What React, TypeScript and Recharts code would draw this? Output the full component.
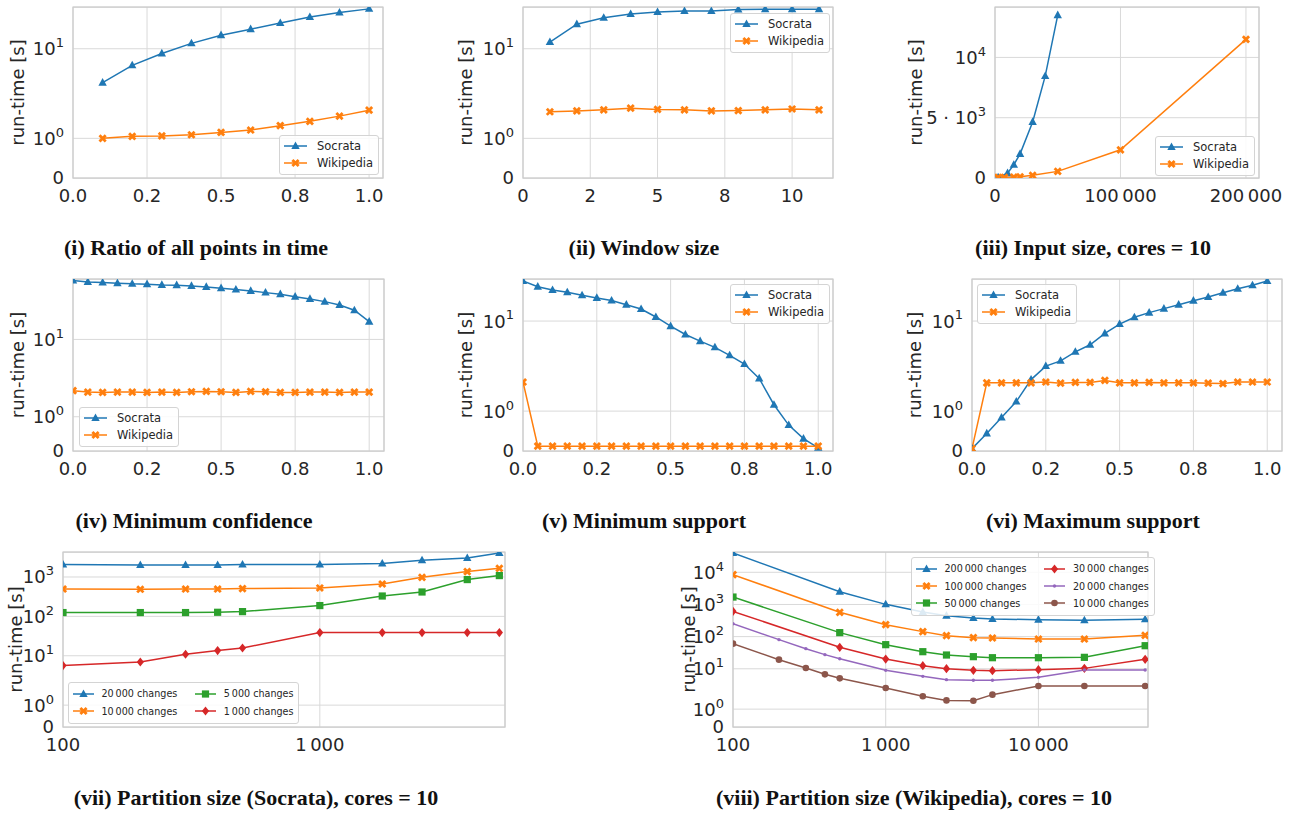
import React from 'react';
import { LineChart, Line, XAxis, YAxis, CartesianGrid, Legend, ReferenceArea } from 'recharts';

const INK = '#262626';
const GRID = '#d9d9d9';
const EDGE = '#cccccc';
const SANS = '"DejaVu Sans", sans-serif';

const BLUE = '#1f77b4';
const ORANGE = '#ff7f0e';
const GREEN = '#2ca02c';
const RED = '#d62728';
const PURPLE = '#9467bd';
const BROWN = '#8c564b';

// symlog like matplotlib (linthresh = 2, linscale = 1), in decades
const LIN = 1 / 0.9;
const symlog = (v: number) => (v <= 2 ? (v * LIN) / 2 : LIN + Math.log10(v / 2));

// (i) ratio of all points in time
const ratioX = [0.1, 0.2, 0.3, 0.4, 0.5, 0.6, 0.7, 0.8, 0.9, 1.0];
const ratioSocrata = [3.35, 5.86, 8.6, 11.9, 15.5, 18.8, 22.9, 27.8, 32.2, 36.2];
const ratioWikipedia = [1.0, 1.05, 1.06, 1.09, 1.15, 1.21, 1.32, 1.43, 1.56, 1.71];

// (ii) window size
const windowX = [1, 2, 3, 4, 5, 6, 7, 8, 9, 10, 11];
const windowSocrata = [12.4, 22.1, 27.1, 30.6, 32.6, 33.7, 33.7, 35.5, 35.9, 35.9, 35.9];
const windowWikipedia = [1.67, 1.69, 1.72, 1.76, 1.73, 1.72, 1.69, 1.7, 1.72, 1.74, 1.72];

// (iii) input size
const inputSocrataX = [2500, 10000, 15000, 20000, 30000, 40000, 50000];
const inputSocrata = [60, 400, 1100, 2000, 4650, 8450, 13500];
const inputWikipediaX = [2500, 7500, 15000, 20000, 30000, 50000, 100000, 200000];
const inputWikipedia = [50, 60, 80, 100, 220, 550, 2340, 11500];

// (iv)-(vi) thresholds
const thresholdX = [0, 0.05, 0.1, 0.15, 0.2, 0.25, 0.3, 0.35, 0.4, 0.45, 0.5, 0.55, 0.6, 0.65, 0.7, 0.75, 0.8, 0.85, 0.9, 0.95, 1.0];
const confSocrata = [90.0, 85.7, 83.6, 81.7, 79.6, 78.7, 76.6, 75.7, 73.8, 71.1, 67.8, 64.3, 61.2, 57.4, 54.1, 49.4, 45.4, 41.0, 36.2, 29.7, 19.4];
const confWikipedia = [1.76, 1.72, 1.71, 1.72, 1.72, 1.71, 1.72, 1.71, 1.73, 1.74, 1.73, 1.71, 1.74, 1.73, 1.71, 1.71, 1.72, 1.72, 1.71, 1.72, 1.72];
const minSupSocrata = [36.1, 30.1, 27.1, 25.2, 22.9, 21.0, 19.3, 16.9, 14.7, 11.4, 8.5, 6.5, 5.25, 4.3, 3.33, 2.52, 1.82, 1.16, 0.65, 0.31, 0.08];
const minSupWikipedia = [1.73, 0.12, 0.12, 0.12, 0.12, 0.12, 0.12, 0.12, 0.12, 0.12, 0.12, 0.12, 0.12, 0.12, 0.12, 0.12, 0.12, 0.12, 0.12, 0.12, 0.12];
const maxSupSocrata = [0.06, 0.44, 0.84, 1.24, 1.79, 2.36, 2.79, 3.73, 4.67, 6.73, 9.08, 11.3, 13.1, 14.9, 16.9, 19.2, 21.6, 24.8, 28.2, 31.5, 36.1];
const maxSupWikipedia = [0.06, 1.71, 1.71, 1.71, 1.71, 1.73, 1.7, 1.72, 1.72, 1.77, 1.71, 1.71, 1.72, 1.71, 1.71, 1.71, 1.7, 1.69, 1.73, 1.73, 1.73];

// (vii) partition size, Socrata
const partX = [100, 200, 300, 400, 500, 1000, 1750, 2500, 3750, 5000];
const soc20000 = [2065, 2018, 2018, 2018, 2065, 2065, 2188, 2655, 3040, 4070];
const soc10000 = [495, 488, 495, 495, 507, 526, 664, 982, 1370, 1663];
const soc5000 = [125, 125, 125, 127, 132, 188, 329, 416, 860, 1086];
const soc1000 = [5.62, 6.93, 10.9, 13.5, 15.7, 38.7, 38.7, 38.7, 38.7, 38.7];

// (viii) partition size, Wikipedia
const wikiCoarseX = [100, 500, 1000, 1750, 2500, 3750, 5000, 10000, 20000, 50000];
const wikiFineX = [100, 200, 300, 400, 500, 1000, 1750, 2500, 3750, 5000, 10000, 20000, 50000];
const wiki200000 = [39700, 2495, 1007, 582, 448, 379, 353, 336, 320, 344];
const wiki100000 = [8430, 569, 235, 143, 107, 92.7, 90.6, 84.3, 84.3, 110];
const wiki50000 = [1700, 133, 56.2, 34.0, 26.8, 23.8, 22.1, 22.1, 22.7, 52.2];
const wiki30000 = [611, 46.5, 20.1, 12.5, 10.1, 8.95, 8.73, 9.38, 10.3, 19.7];
const wiki20000 = [252, 80.4, 42.2, 27.5, 20.6, 8.95, 5.82, 4.59, 4.38, 4.38, 5.42, 9.16, 9.16];
const wiki10000 = [60.4, 19.2, 10.6, 6.72, 5.05, 2.52, 1.72, 1.49, 1.47, 1.81, 2.92, 2.92, 2.92];

// tick values and labels
type TickLabel = { text: string; sup?: string };
const fracTicks = [0, 0.25, 0.5, 0.75, 1];
const fracLabels = ['0.0', '0.2', '0.5', '0.8', '1.0'];
const windowTicks = [0, 2.5, 5, 7.5, 10];
const windowLabels = ['0', '2', '5', '8', '10'];
const inputXTicks = [0, 100000, 200000];
const inputXLabels = ['0', '100\u2009000', '200\u2009000'];
const inputYTicks = [0, 5000, 10000];
const inputYLabels: TickLabel[] = [{ text: '0' }, { text: '5 \u00b7 10', sup: '3' }, { text: '10', sup: '4' }];
const partTicks = [100, 1000];
const partLabels = ['100', '1\u2009000'];
const partWikiTicks = [100, 1000, 10000];
const partWikiLabels = ['100', '1\u2009000', '10\u2009000'];
const decadeTicks = [0, 1, 10, 100, 1000, 10000];
const decadeLabels: TickLabel[] = [
  { text: '0' },
  { text: '10', sup: '0' },
  { text: '10', sup: '1' },
  { text: '10', sup: '2' },
  { text: '10', sup: '3' },
  { text: '10', sup: '4' },
];

type Shape = 'tri' | 'x' | 'sq' | 'dia' | 'pt' | 'o';
type Series = { key: string; name: string; color: string; shape: Shape; xs: number[]; ys: number[] };

const socrata = (xs: number[], ys: number[]): Series => ({ key: 's', name: 'Socrata', color: BLUE, shape: 'tri', xs, ys });
const wikipedia = (xs: number[], ys: number[]): Series => ({ key: 'w', name: 'Wikipedia', color: ORANGE, shape: 'x', xs, ys });

function Marker({ shape, cx, cy, color }: { shape: Shape; cx: number; cy: number; color: string }) {
  switch (shape) {
    case 'tri':
      return <polygon points={`${cx},${cy - 4.6} ${cx + 4.2},${cy + 3} ${cx - 4.2},${cy + 3}`} fill={color} />;
    case 'x':
      return (
        <g transform={`translate(${cx},${cy}) rotate(45)`} fill={color}>
          <rect x={-4.4} y={-1.4} width={8.8} height={2.8} />
          <rect x={-1.4} y={-4.4} width={2.8} height={8.8} />
        </g>
      );
    case 'sq':
      return <rect x={cx - 3.6} y={cy - 3.6} width={7.2} height={7.2} fill={color} />;
    case 'dia':
      return <polygon points={`${cx},${cy - 4.6} ${cx + 3.6},${cy} ${cx},${cy + 4.6} ${cx - 3.6},${cy}`} fill={color} />;
    case 'pt':
      return <circle cx={cx} cy={cy} r={1.7} fill={color} />;
    default:
      return <circle cx={cx} cy={cy} r={3.3} fill={color} />;
  }
}

type LegendCfg = { dx: number; dy: number; cols: number; font: number; handle: number; gap: number; colGap: number; rowH: number };

function LegendBox({ series, cfg }: { series: Series[]; cfg: LegendCfg }) {
  const rows = Math.ceil(series.length / cfg.cols);
  return (
    <div
      style={{
        display: 'grid',
        gridAutoFlow: 'column',
        gridTemplateRows: `repeat(${rows}, ${cfg.rowH}px)`,
        columnGap: cfg.colGap,
        padding: '2px 5px 3px 4px',
        border: '1px solid #d4d4d4',
        borderRadius: 3,
        background: 'rgba(255,255,255,0.85)',
        fontFamily: SANS,
        fontSize: cfg.font,
        color: INK,
        whiteSpace: 'nowrap',
      }}
    >
      {series.map((s) => (
        <div key={s.key} style={{ display: 'flex', alignItems: 'center' }}>
          <svg width={cfg.handle} height={12} style={{ marginRight: cfg.gap }}>
            <line x1={0} y1={6} x2={cfg.handle} y2={6} stroke={s.color} strokeWidth={1.5} />
            <Marker shape={s.shape} cx={cfg.handle / 2} cy={6} color={s.color} />
          </svg>
          <span>{s.name}</span>
        </div>
      ))}
    </div>
  );
}

const smallLegend = (dx: number, dy: number): LegendCfg => ({ dx, dy, cols: 1, font: 11.5, handle: 23, gap: 10, colGap: 0, rowH: 16.7 });
const wideLegend = (dx: number, dy: number): LegendCfg => ({ dx, dy, cols: 2, font: 9.6, handle: 21, gap: 7.5, colGap: 18, rowH: 17.4 });

type PanelProps = {
  left: number;
  top: number;
  width: number;
  height: number;
  series: Series[];
  xDomain: [number, number];
  xTicks: number[];
  xLabels: string[];
  xLog?: boolean;
  yTop: number;
  yTicks: number[];
  yLabels: TickLabel[];
  yLinear?: boolean;
  labelGap: number;
  legend: LegendCfg;
};

const AXIS_W = 90;
const PAD_TOP = 10;
const PAD_RIGHT = 40;
const AXIS_H = 45;

function Panel(p: PanelProps) {
  const tf = (v: number) => (p.yLinear ? v : symlog(v));
  const xs = Array.from(new Set(p.series.flatMap((s) => s.xs))).sort((a, b) => a - b);
  const data = xs.map((x) => {
    const row: Record<string, number> = { x };
    p.series.forEach((s) => {
      const i = s.xs.indexOf(x);
      if (i >= 0) row[s.key] = tf(s.ys[i]);
    });
    return row;
  });
  const yTickPos = p.yTicks.map(tf);

  const xTick = (t: any) => (
    <text x={t.x} y={t.y} dy="0.8em" textAnchor="middle" fontFamily={SANS} fontSize={18} fill={INK}>
      {p.xLabels[t.index]}
    </text>
  );
  const yTick = (t: any) => {
    const lab = p.yLabels[t.index];
    return (
      <text x={t.x} y={t.y} dy="0.36em" textAnchor="end" fontFamily={SANS} fontSize={18} fill={INK}>
        {lab.text}
        {lab.sup && (
          <tspan fontSize={13} dy="-0.62em">
            {lab.sup}
          </tspan>
        )}
      </text>
    );
  };
  const yLabel = (l: any) => {
    const vb = l.viewBox;
    const cx = vb.x + vb.width - p.labelGap;
    const cy = vb.y + vb.height / 2;
    return (
      <text
        x={cx}
        y={cy}
        transform={`rotate(-90 ${cx} ${cy})`}
        textAnchor="middle"
        dominantBaseline="central"
        fontFamily={SANS}
        fontSize={18}
        fill={INK}
      >
        run-time [s]
      </text>
    );
  };

  return (
    <div style={{ position: 'absolute', left: p.left - AXIS_W, top: p.top - PAD_TOP }}>
      <LineChart
        width={p.width + AXIS_W + PAD_RIGHT}
        height={p.height + PAD_TOP + AXIS_H}
        data={data}
        margin={{ top: PAD_TOP, right: PAD_RIGHT, bottom: 0, left: 0 }}
      >
        <CartesianGrid stroke={GRID} strokeWidth={1} />
        <XAxis
          type="number"
          dataKey="x"
          domain={p.xDomain}
          scale={p.xLog ? 'log' : 'auto'}
          ticks={p.xTicks}
          interval={0}
          allowDataOverflow
          axisLine={false}
          tickLine={false}
          tickSize={0}
          tickMargin={10}
          height={AXIS_H}
          tick={xTick}
        />
        <YAxis
          type="number"
          domain={[0, p.yTop]}
          ticks={yTickPos}
          interval={0}
          allowDataOverflow
          axisLine={false}
          tickLine={false}
          tickSize={0}
          tickMargin={9}
          width={AXIS_W}
          tick={yTick}
          label={yLabel}
        />
        <ReferenceArea
          x1={p.xDomain[0]}
          x2={p.xDomain[1]}
          y1={0}
          y2={p.yTop}
          fill="none"
          fillOpacity={0}
          stroke={EDGE}
          strokeWidth={1.25}
          ifOverflow="visible"
        />
        {p.series.map((s) => (
          <Line
            key={s.key}
            dataKey={s.key}
            name={s.name}
            type="linear"
            stroke={s.color}
            strokeWidth={1.5}
            connectNulls
            isAnimationActive={false}
            dot={(d: any) =>
              Number.isFinite(d.cx) && Number.isFinite(d.cy) && d.value != null ? (
                <g key={`${s.key}-${d.index}`}>
                  <Marker shape={s.shape} cx={d.cx} cy={d.cy} color={s.color} />
                </g>
              ) : (
                <g key={`${s.key}-${d.index}`} />
              )
            }
            activeDot={false}
          />
        ))}
        <Legend
          verticalAlign="middle"
          align="center"
          layout="horizontal"
          wrapperStyle={{ left: AXIS_W + p.legend.dx, top: PAD_TOP + p.legend.dy, width: 'auto', height: 'auto' }}
          content={() => <LegendBox series={p.series} cfg={p.legend} />}
        />
      </LineChart>
    </div>
  );
}

function Caption({ text, cx, cy }: { text: string; cx: number; cy: number }) {
  return (
    <div
      style={{
        position: 'absolute',
        left: cx - 250,
        top: cy - 13,
        width: 500,
        lineHeight: '26px',
        textAlign: 'center',
        fontFamily: '"Liberation Serif", serif',
        fontWeight: 'bold',
        fontSize: 22,
        color: '#111',
      }}
    >
      {text}
    </div>
  );
}

const twoDatasets = (sx: number[], sy: number[], wx: number[], wy: number[]) => [socrata(sx, sy), wikipedia(wx, wy)];

export default function App() {
  return (
    <div style={{ position: 'absolute', left: 0, top: 0, width: 1299, height: 814, background: '#fff', overflow: 'hidden' }}>
      <Panel
        left={73} top={7} width={310} height={171}
        series={twoDatasets(ratioX, ratioSocrata, ratioX, ratioWikipedia)}
        xDomain={[0, 1.047]} xTicks={fracTicks} xLabels={fracLabels}
        yTop={2.395} yTicks={decadeTicks.slice(0, 3)} yLabels={decadeLabels.slice(0, 3)}
        labelGap={56} legend={smallLegend(206, 128)}
      />
      <Panel
        left={523} top={7} width={310} height={171}
        series={twoDatasets(windowX, windowSocrata, windowX, windowWikipedia)}
        xDomain={[0, 11.52]} xTicks={windowTicks} xLabels={windowLabels}
        yTop={2.395} yTicks={decadeTicks.slice(0, 3)} yLabels={decadeLabels.slice(0, 3)}
        labelGap={58} legend={smallLegend(207, 6)}
      />
      <Panel
        left={995} top={7} width={264} height={171}
        series={twoDatasets(inputSocrataX, inputSocrata, inputWikipediaX, inputWikipedia)}
        xDomain={[0, 210400]} xTicks={inputXTicks} xLabels={inputXLabels}
        yTop={14180} yTicks={inputYTicks} yLabels={inputYLabels} yLinear
        labelGap={80} legend={smallLegend(160, 129)}
      />
      <Panel
        left={73} top={279} width={311} height={172}
        series={twoDatasets(thresholdX, confSocrata, thresholdX, confWikipedia)}
        xDomain={[0, 1.05]} xTicks={fracTicks} xLabels={fracLabels}
        yTop={2.79} yTicks={decadeTicks.slice(0, 3)} yLabels={decadeLabels.slice(0, 3)}
        labelGap={56} legend={smallLegend(6, 128)}
      />
      <Panel
        left={523} top={279} width={310} height={172}
        series={twoDatasets(thresholdX, minSupSocrata, thresholdX, minSupWikipedia)}
        xDomain={[0, 1.05]} xTicks={fracTicks} xLabels={fracLabels}
        yTop={2.396} yTicks={decadeTicks.slice(0, 3)} yLabels={decadeLabels.slice(0, 3)}
        labelGap={58} legend={smallLegend(207, 5)}
      />
      <Panel
        left={972} top={279} width={310} height={172}
        series={twoDatasets(thresholdX, maxSupSocrata, thresholdX, maxSupWikipedia)}
        xDomain={[0, 1.05]} xTicks={fracTicks} xLabels={fracLabels}
        yTop={2.396} yTicks={decadeTicks.slice(0, 3)} yLabels={decadeLabels.slice(0, 3)}
        labelGap={58} legend={smallLegend(5, 5)}
      />
      <Panel
        left={63} top={552} width={442} height={175}
        series={[
          { key: 'a', name: '20\u2009000 changes', color: BLUE, shape: 'tri', xs: partX, ys: soc20000 },
          { key: 'b', name: '10\u2009000 changes', color: ORANGE, shape: 'x', xs: partX, ys: soc10000 },
          { key: 'c', name: '5\u2009000 changes', color: GREEN, shape: 'sq', xs: partX, ys: soc5000 },
          { key: 'd', name: '1\u2009000 changes', color: RED, shape: 'dia', xs: partX, ys: soc1000 },
        ]}
        xDomain={[100, 5260]} xTicks={partTicks} xLabels={partLabels} xLog
        yTop={4.445} yTicks={decadeTicks.slice(0, 5)} yLabels={decadeLabels.slice(0, 5)}
        labelGap={48} legend={wideLegend(5, 130)}
      />
      <Panel
        left={733} top={552} width={415} height={175}
        series={[
          { key: 'a', name: '200\u2009000 changes', color: BLUE, shape: 'tri', xs: wikiCoarseX, ys: wiki200000 },
          { key: 'b', name: '100\u2009000 changes', color: ORANGE, shape: 'x', xs: wikiCoarseX, ys: wiki100000 },
          { key: 'c', name: '50\u2009000 changes', color: GREEN, shape: 'sq', xs: wikiCoarseX, ys: wiki50000 },
          { key: 'd', name: '30\u2009000 changes', color: RED, shape: 'dia', xs: wikiCoarseX, ys: wiki30000 },
          { key: 'e', name: '20\u2009000 changes', color: PURPLE, shape: 'pt', xs: wikiFineX, ys: wiki20000 },
          { key: 'f', name: '10\u2009000 changes', color: BROWN, shape: 'o', xs: wikiFineX, ys: wiki10000 },
        ]}
        xDomain={[100, 52200]} xTicks={partWikiTicks} xLabels={partWikiLabels} xLog
        yTop={5.441} yTicks={decadeTicks} yLabels={decadeLabels}
        labelGap={45} legend={wideLegend(178, 5)}
      />
      <Caption text="(i) Ratio of all points in time" cx={196} cy={248} />
      <Caption text="(ii) Window size" cx={644} cy={248} />
      <Caption text="(iii) Input size, cores = 10" cx={1093} cy={248} />
      <Caption text="(iv) Minimum confidence" cx={194} cy={521} />
      <Caption text="(v) Minimum support" cx={644} cy={521} />
      <Caption text="(vi) Maximum support" cx={1093} cy={521} />
      <Caption text="(vii) Partition size (Socrata), cores = 10" cx={256} cy={798} />
      <Caption text="(viii) Partition size (Wikipedia), cores = 10" cx={914} cy={798} />
    </div>
  );
}
